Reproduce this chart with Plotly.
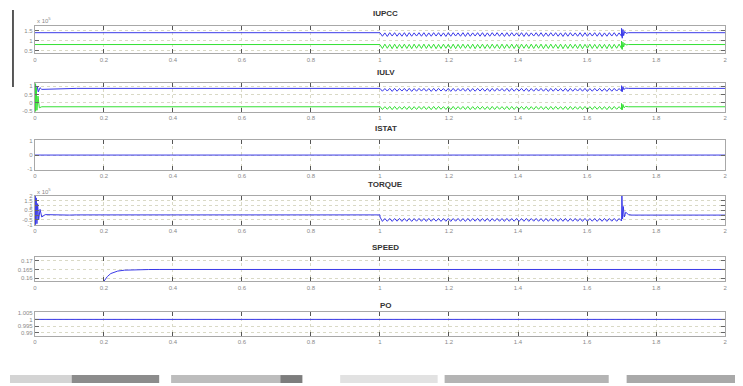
import numpy as np
import plotly.graph_objects as go

# page is 743x386; the html body adds an 8px margin, so the figure is 8px smaller
PAGE_W, PAGE_H = 743, 386
OFF = 8
W, H = PAGE_W - OFF, PAGE_H - OFF

# ---------------- data ----------------
PANEL_TITLES = ["IUPCC", "IULV", "ISTAT", "TORQUE", "SPEED", "PO"]
X_TICKS = [0, 0.2, 0.4, 0.6, 0.8, 1.0, 1.2, 1.4, 1.6, 1.8, 2.0]
X_TICK_LABELS = ["0", "0.2", "0.4", "0.6", "0.8", "1", "1.2", "1.4", "1.6", "1.8", "2"]
OSC_START, OSC_END = 1.0, 1.7

# IUPCC (x10^5) - blue phase
IUPCC_A_T0 = [0.0, 1.0]
IUPCC_A_V0 = [1.40, 1.40]
IUPCC_A_OSC = [
    1.40, 1.22, 1.39, 1.21, 1.40, 1.23, 1.40, 1.22, 1.39, 1.22,
    1.40, 1.21, 1.40, 1.22, 1.39, 1.23, 1.40, 1.22, 1.40, 1.21,
    1.39, 1.22, 1.40, 1.23, 1.40, 1.22, 1.39, 1.21, 1.40, 1.22,
    1.40, 1.23, 1.39, 1.22, 1.40, 1.21, 1.40, 1.22, 1.39, 1.23,
    1.40, 1.22, 1.40, 1.21, 1.39, 1.22, 1.40, 1.23, 1.40, 1.22,
    1.39, 1.21, 1.40, 1.22, 1.40, 1.23, 1.39, 1.22, 1.40, 1.21,
    1.40, 1.22, 1.39, 1.23, 1.40, 1.22, 1.40, 1.21, 1.39, 1.22,
    1.40, 1.23, 1.40, 1.22, 1.39, 1.21, 1.40, 1.22, 1.40, 1.23,
    1.39, 1.22, 1.40, 1.21, 1.40, 1.22, 1.39, 1.23, 1.40, 1.22,
    1.40, 1.21, 1.39, 1.22, 1.40, 1.23, 1.40, 1.22, 1.39, 1.22,
]
IUPCC_A_T1 = [1.700, 1.702, 1.704, 1.706, 1.709, 1.713, 1.720, 2.0]
IUPCC_A_V1 = [1.62, 1.12, 1.56, 1.25, 1.46, 1.37, 1.40, 1.40]

# IUPCC (x10^5) - green phase
IUPCC_B_T0 = [0.0, 1.0]
IUPCC_B_V0 = [0.80, 0.80]
IUPCC_B_OSC = [
    0.80, 0.60, 0.82, 0.61, 0.81, 0.59, 0.82, 0.60, 0.81, 0.61,
    0.82, 0.60, 0.81, 0.59, 0.82, 0.61, 0.81, 0.60, 0.82, 0.60,
    0.81, 0.61, 0.82, 0.59, 0.81, 0.60, 0.82, 0.61, 0.81, 0.60,
    0.82, 0.59, 0.81, 0.60, 0.82, 0.61, 0.81, 0.60, 0.82, 0.59,
    0.81, 0.61, 0.82, 0.60, 0.81, 0.60, 0.82, 0.61, 0.81, 0.59,
    0.82, 0.60, 0.81, 0.61, 0.82, 0.60, 0.81, 0.59, 0.82, 0.61,
    0.81, 0.60, 0.82, 0.60, 0.81, 0.61, 0.82, 0.59, 0.81, 0.60,
    0.82, 0.61, 0.81, 0.60, 0.82, 0.59, 0.81, 0.60, 0.82, 0.61,
    0.81, 0.60, 0.82, 0.59, 0.81, 0.61, 0.82, 0.60, 0.81, 0.60,
    0.82, 0.61, 0.81, 0.59, 0.82, 0.60, 0.81, 0.61, 0.82, 0.60,
]
IUPCC_B_T1 = [1.700, 1.702, 1.704, 1.706, 1.709, 1.713, 1.720, 2.0]
IUPCC_B_V1 = [0.98, 0.55, 0.92, 0.68, 0.86, 0.78, 0.80, 0.80]

# IULV - blue phase
IULV_A_T0 = [0.0, 0.002, 0.004, 0.007, 0.010, 0.015, 0.02, 0.06, 0.12, 1.0]
IULV_A_V0 = [0.55, 1.12, 0.50, 1.00, 0.65, 0.90, 0.80, 0.82, 0.86, 0.86]
IULV_A_OSC = [
    0.86, 0.69, 0.85, 0.70, 0.86, 0.68, 0.86, 0.69, 0.85, 0.70,
    0.86, 0.69, 0.86, 0.68, 0.85, 0.69, 0.86, 0.70, 0.86, 0.69,
    0.85, 0.68, 0.86, 0.69, 0.86, 0.70, 0.85, 0.69, 0.86, 0.68,
    0.86, 0.69, 0.85, 0.70, 0.86, 0.69, 0.86, 0.68, 0.85, 0.69,
    0.86, 0.70, 0.86, 0.69, 0.85, 0.68, 0.86, 0.69, 0.86, 0.70,
    0.85, 0.69, 0.86, 0.68, 0.86, 0.69, 0.85, 0.70, 0.86, 0.69,
    0.86, 0.68, 0.85, 0.69, 0.86, 0.70, 0.86, 0.69, 0.85, 0.68,
    0.86, 0.69, 0.86, 0.70, 0.85, 0.69, 0.86, 0.68, 0.86, 0.69,
    0.85, 0.70, 0.86, 0.69, 0.86, 0.68, 0.85, 0.69, 0.86, 0.70,
    0.86, 0.69, 0.85, 0.68, 0.86, 0.69, 0.86, 0.70, 0.85, 0.69,
]
IULV_A_T1 = [1.700, 1.702, 1.704, 1.707, 1.711, 1.720, 2.0]
IULV_A_V1 = [1.02, 0.66, 0.96, 0.78, 0.88, 0.86, 0.86]

# IULV - green phase
IULV_B_T0 = [0.0, 0.001, 0.002, 0.004, 0.006, 0.009, 0.013, 0.02, 1.0]
IULV_B_V0 = [-0.24, 1.15, -0.52, 0.90, -0.45, 0.40, -0.30, -0.24, -0.24]
IULV_B_OSC = [
    -0.22, -0.40, -0.23, -0.39, -0.22, -0.41, -0.22, -0.40, -0.23, -0.39,
    -0.22, -0.40, -0.22, -0.41, -0.23, -0.40, -0.22, -0.39, -0.22, -0.40,
    -0.23, -0.41, -0.22, -0.40, -0.22, -0.39, -0.23, -0.40, -0.22, -0.41,
    -0.22, -0.40, -0.23, -0.39, -0.22, -0.40, -0.22, -0.41, -0.23, -0.40,
    -0.22, -0.39, -0.22, -0.40, -0.23, -0.41, -0.22, -0.40, -0.22, -0.39,
    -0.23, -0.40, -0.22, -0.41, -0.22, -0.40, -0.23, -0.39, -0.22, -0.40,
    -0.22, -0.41, -0.23, -0.40, -0.22, -0.39, -0.22, -0.40, -0.23, -0.41,
    -0.22, -0.40, -0.22, -0.39, -0.23, -0.40, -0.22, -0.41, -0.22, -0.40,
    -0.23, -0.39, -0.22, -0.40, -0.22, -0.41, -0.23, -0.40, -0.22, -0.39,
    -0.22, -0.40, -0.23, -0.41, -0.22, -0.40, -0.22, -0.39, -0.23, -0.40,
]
IULV_B_T1 = [1.700, 1.702, 1.704, 1.707, 1.711, 1.720, 2.0]
IULV_B_V1 = [-0.04, -0.42, -0.10, -0.30, -0.22, -0.24, -0.24]

# ISTAT
ISTAT_T = [0.0, 2.0]
ISTAT_V = [0.0, 0.0]

# TORQUE (x10^5)
TORQUE_T0 = [0.0, 0.001, 0.002, 0.004, 0.006, 0.008, 0.011, 0.015, 0.02, 0.03, 0.10, 0.12, 1.0]
TORQUE_V0 = [0.0, 2.00, -1.00, 1.80, -0.90, 1.20, -0.50, 0.60, -0.20, 0.05, 0.0, 0.02, 0.02]
TORQUE_OSC = [
    -0.20, -0.66, -0.36, -0.65, -0.35, -0.66, -0.36, -0.64, -0.35, -0.66,
    -0.36, -0.65, -0.35, -0.66, -0.36, -0.64, -0.35, -0.65, -0.36, -0.66,
    -0.35, -0.65, -0.36, -0.64, -0.35, -0.66, -0.36, -0.65, -0.35, -0.66,
    -0.36, -0.64, -0.35, -0.65, -0.36, -0.66, -0.35, -0.65, -0.36, -0.64,
    -0.35, -0.66, -0.36, -0.65, -0.35, -0.66, -0.36, -0.64, -0.35, -0.65,
    -0.36, -0.66, -0.35, -0.65, -0.36, -0.64, -0.35, -0.66, -0.36, -0.65,
    -0.35, -0.66, -0.36, -0.64, -0.35, -0.65, -0.36, -0.66, -0.35, -0.65,
    -0.36, -0.64, -0.35, -0.66, -0.36, -0.65, -0.35, -0.66, -0.36, -0.64,
    -0.35, -0.65, -0.36, -0.66, -0.35, -0.65, -0.36, -0.64, -0.35, -0.66,
    -0.36, -0.65, -0.35, -0.66, -0.36, -0.64, -0.35, -0.65, -0.36, -0.62,
]
TORQUE_T1 = [1.700, 1.701, 1.703, 1.705, 1.708, 1.712, 1.720, 1.730, 2.0]
TORQUE_V1 = [-0.50, 2.00, -0.40, 0.90, -0.20, 0.30, 0.05, 0.0, 0.0]

# SPEED
SPEED_T = [0.2, 0.205, 0.21, 0.22, 0.23, 0.24, 0.26, 0.28, 0.30, 0.33, 0.36, 0.40, 2.0]
SPEED_V = [0.1583, 0.1598, 0.1610, 0.1627, 0.1636, 0.1641, 0.1646, 0.1648, 0.1649,
           0.16497, 0.1650, 0.1650, 0.1650]

# PO
PO_T = [0.0, 2.0]
PO_V = [1.0, 1.0]

# y axis settings per panel
Y_RANGES = [[0.35, 1.75], [-0.53, 1.18], [-1.07, 1.07], [-1.05, 2.05],
            [0.1583, 0.1722], [0.988, 1.0055]]
Y_TICKS = [[0.5, 1, 1.5], [-0.5, 0, 0.5, 1], [-1, 0, 1],
           [-1, -0.5, 0, 0.5, 1, 1.5, 2], [0.16, 0.165, 0.17],
           [0.99, 0.995, 1.0, 1.005]]
Y_TICK_LABELS = [["0.5", "1", "1.5"], ["-0.5", "0", "0.5", "1"], ["-1", "0", "1"],
                 ["-1", "-0.5", "0", "0.5", "1", "1.5", "2"],
                 ["0.16", "0.165", "0.17"], ["0.99", "0.995", "1", "1.005"]]

# ---------------- layout geometry (page pixels) ----------------
X_PX = (33, 727)
PANEL_PX = [(24, 52), (82, 111), (140, 170), (196, 226), (258, 283), (314, 338)]
TITLE_PX = [12, 71, 128, 185, 249, 307]
BLUE = "#3a3ae8"
GREEN = "#35e035"


def px_x(p):
    return (p - OFF) / W


def px_y(p):
    return 1 - (p - OFF) / H


def seg(t0, v0, osc, t1, v1):
    t_osc = np.linspace(OSC_START, OSC_END, len(osc))
    return (np.concatenate([t0, t_osc, t1]), np.concatenate([v0, osc, v1]))


series = [
    (1, *seg(IUPCC_A_T0, IUPCC_A_V0, IUPCC_A_OSC, IUPCC_A_T1, IUPCC_A_V1), BLUE),
    (1, *seg(IUPCC_B_T0, IUPCC_B_V0, IUPCC_B_OSC, IUPCC_B_T1, IUPCC_B_V1), GREEN),
    (2, *seg(IULV_A_T0, IULV_A_V0, IULV_A_OSC, IULV_A_T1, IULV_A_V1), BLUE),
    (2, *seg(IULV_B_T0, IULV_B_V0, IULV_B_OSC, IULV_B_T1, IULV_B_V1), GREEN),
    (3, np.array(ISTAT_T), np.array(ISTAT_V), BLUE),
    (4, *seg(TORQUE_T0, TORQUE_V0, TORQUE_OSC, TORQUE_T1, TORQUE_V1), BLUE),
    (5, np.array(SPEED_T), np.array(SPEED_V), BLUE),
    (6, np.array(PO_T), np.array(PO_V), BLUE),
]

fig = go.Figure()
for k, t, v, col in series:
    sfx = "" if k == 1 else str(k)
    fig.add_trace(go.Scatter(x=t, y=v, mode="lines", xaxis="x" + sfx, yaxis="y" + sfx,
                             line=dict(color=col, width=1), showlegend=False,
                             hoverinfo="skip"))

FONT = "Liberation Sans, Arial, sans-serif"
tick_font = dict(family=FONT, size=6, color="#8a8a8a")
layout = dict(width=W, height=H, margin=dict(l=0, r=0, t=0, b=0),
              paper_bgcolor="white", plot_bgcolor="white", showlegend=False)
annotations = []
xd = [px_x(X_PX[0]), px_x(X_PX[1])]
for i in range(6):
    k = i + 1
    sfx = "" if k == 1 else str(k)
    top, bot = PANEL_PX[i]
    yd = [px_y(bot), px_y(top)]
    layout["xaxis" + sfx] = dict(
        domain=xd, anchor="y" + sfx, range=[0, 2], tickvals=X_TICKS, ticktext=X_TICK_LABELS,
        ticks="inside", ticklen=4, tickcolor="#555555", tickwidth=1,
        showline=True, linecolor="#a8a8a8", linewidth=1, mirror="ticks",
        showgrid=True, gridcolor="#d9d9c6", griddash="dot", gridwidth=1,
        zeroline=False, tickfont=tick_font, fixedrange=True)
    layout["yaxis" + sfx] = dict(
        domain=yd, anchor="x" + sfx, range=Y_RANGES[i], tickvals=Y_TICKS[i],
        ticktext=Y_TICK_LABELS[i], ticks="inside", ticklen=4, tickcolor="#666666",
        showline=True, linecolor="#a8a8a8", linewidth=1, mirror="ticks",
        showgrid=True, gridcolor="#d9d9c6", griddash="dot", gridwidth=1,
        zeroline=False, tickfont=tick_font, fixedrange=True)
    annotations.append(dict(
        text="<b>%s</b>" % PANEL_TITLES[i], x=px_x(386), y=px_y(TITLE_PX[i]),
        xref="paper", yref="paper", showarrow=False, xanchor="center", yanchor="middle",
        font=dict(family=FONT, size=8, color="#333333")))

for ypx in (18, 191):
    annotations.append(dict(
        text="x 10<sup>5</sup>", x=px_x(33), y=px_y(ypx), xref="paper", yref="paper",
        showarrow=False, xanchor="left", yanchor="middle",
        font=dict(family=FONT, size=6, color="#8a8a8a")))
layout["annotations"] = annotations

# screenshot artifacts (left bar and bottom strip)
shapes = [dict(type="line", xref="paper", yref="paper", x0=px_x(11), x1=px_x(11),
               y0=px_y(8), y1=px_y(86), line=dict(color="#222222", width=1.5))]
BAR_PX = [(0, 70, "#d4d4d4"), (70, 158, "#8c8c8c"), (170, 300, "#bdbdbd"),
          (280, 302, "#7d7d7d"), (340, 438, "#e2e2e2"), (445, 610, "#b4b4b4"),
          (628, 743, "#a9a9a9")]
for x0, x1, c in BAR_PX:
    shapes.append(dict(type="rect", xref="paper", yref="paper",
                       x0=max(px_x(x0), 0), x1=px_x(x1),
                       y0=px_y(386), y1=px_y(378), fillcolor=c, line=dict(width=0)))
layout["shapes"] = shapes

fig.update_layout(**layout)
fig.write_html("out.html")
